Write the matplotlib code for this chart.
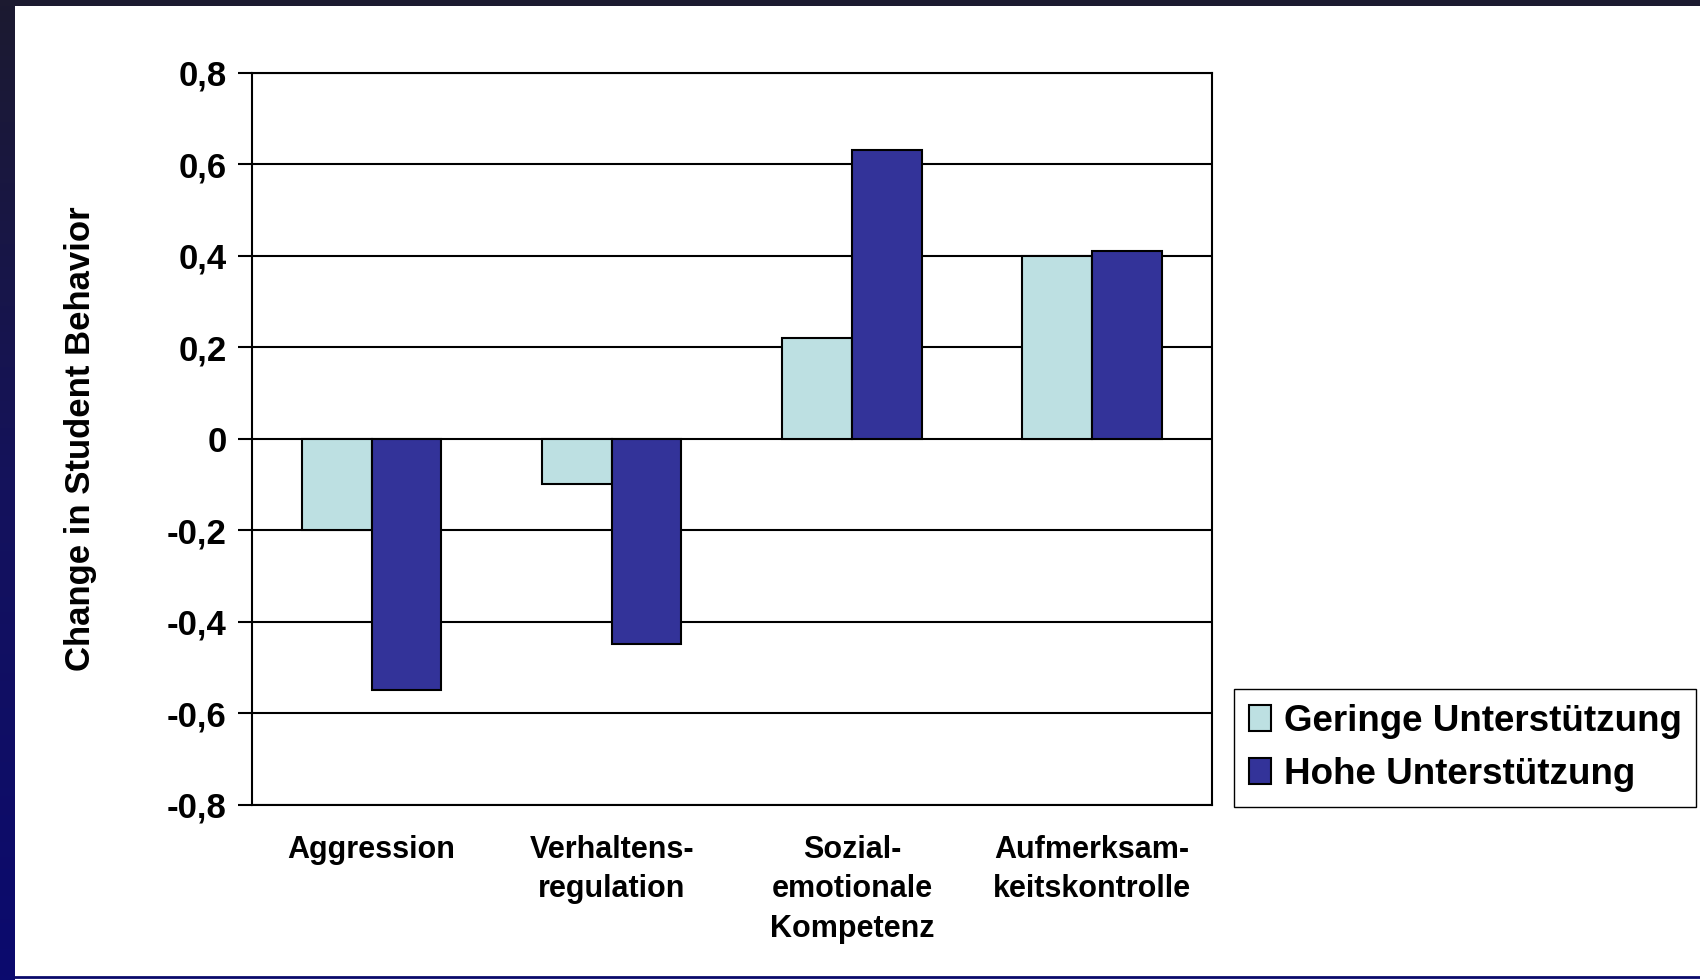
import numpy as np
import matplotlib.pyplot as plt
from matplotlib.lines import Line2D
from matplotlib.colors import LinearSegmentedColormap

# data
categories = ["Aggression", "Verhaltens-\nregulation", "Sozial-\nemotionale\nKompetenz", "Aufmerksam-\nkeitskontrolle"]
geringe = [-0.20, -0.10, 0.22, 0.40]
hohe = [-0.55, -0.45, 0.63, 0.41]
series_names = ["Geringe Unterstützung", "Hohe Unterstützung"]
yticks = [-0.8, -0.6, -0.4, -0.2, 0.0, 0.2, 0.4, 0.6, 0.8]

plt.rcParams['font.family'] = ['Liberation Sans', 'DejaVu Sans']
plt.rcParams['font.weight'] = 'bold'

fig = plt.figure(figsize=(17, 9.8), dpi=100)
fig.patch.set_facecolor('white')

# slide frame: gradient band on the left, dark strip on top, thin navy line at the bottom
band = fig.add_axes([0, 0, 15/1700, 1])
grad = np.linspace(0, 1, 256)[:, None]
cm = LinearSegmentedColormap.from_list('frame', ['#0b0a6e', '#14125c', '#1c1a30'])
band.imshow(grad, aspect='auto', cmap=cm, origin='lower', extent=[0, 1, 0, 1])
band.axis('off')
top = fig.add_axes([0, 1 - 6/980, 1, 6/980])
top.set_facecolor('#1c1a30')
top.set_xticks([]); top.set_yticks([])
for s in top.spines.values():
    s.set_visible(False)
fig.lines.append(Line2D([15/1700, 1], [3/980, 3/980], transform=fig.transFigure, color='#0a0a6a', lw=2))

ax = fig.add_axes([0.148, 0.179, 0.565, 0.747])

x = np.arange(len(categories))
w = 0.29
ax.bar(x - w/2, geringe, w, color='#bde0e2', edgecolor='black', lw=1.5, label=series_names[0], zorder=3)
ax.bar(x + w/2, hohe, w, color='#333399', edgecolor='black', lw=1.5, label=series_names[1], zorder=3)

ax.set_xlim(-0.5, len(categories) - 0.5)
ax.set_ylim(-0.8, 0.8)
ax.set_yticks(yticks)
ax.set_yticklabels([("0" if abs(v) < 1e-9 else f"{v:.1f}".replace(".", ",")) for v in yticks], fontsize=25)
ax.yaxis.grid(True, color='black', lw=1.5, zorder=0)
ax.set_axisbelow(True)
ax.tick_params(axis='y', length=10, width=1.5, pad=8)
ax.set_xticks(x)
ax.set_xticklabels(categories, fontsize=22, linespacing=1.4, va='top')
ax.tick_params(axis='x', length=0, pad=22)
for s in ax.spines.values():
    s.set_linewidth(1.5)

ax.set_ylabel("Change in Student Behavior", fontsize=25, fontweight='bold', labelpad=50)

fig.legend(loc='upper left', bbox_to_anchor=(0.726, 0.297), fontsize=26.5, frameon=True,
           fancybox=False, edgecolor='black', framealpha=1, handlelength=0.6, handleheight=0.7,
           handletextpad=0.35, borderpad=0.4, labelspacing=0.5, borderaxespad=0)

fig.savefig('out.png', dpi=100)
